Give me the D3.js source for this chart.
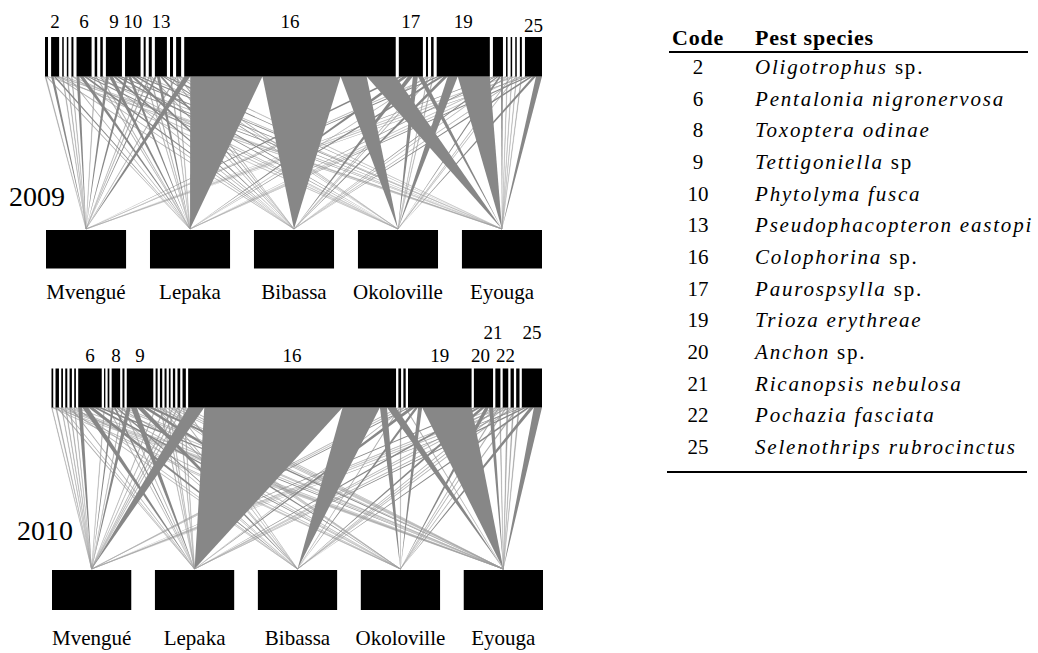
<!DOCTYPE html>
<html>
<head>
<meta charset="utf-8">
<script src="https://cdn.jsdelivr.net/npm/d3@7"></script>
<style>
  body { margin: 0; background: #fff; }
  svg { display: block; }
  svg text { font-family: "Liberation Serif", "Times New Roman", "DejaVu Serif", serif; }
</style>
</head>
<body>
<script>
// lower level: sampling sites, same order in both years
const sites = ['Mvengué', 'Lepaka', 'Bibassa', 'Okoloville', 'Eyouga'];

// upper level: pest codes in the order they sit along the bar
const codes2009 = [1, 2, 3, 4, 5, 6, 7, 8, 9, 10, 11, 12, 13, 14, 15, 16, 17, 18, 26, 19, 20, 21, 22, 23, 24, 25];
// interactions of each pest with Mvengué, Lepaka, Bibassa, Okoloville, Eyouga
const links2009 = [
  [1, 1, 0, 0, 1],
  [2.5, 2, 1, 1, 1.5],
  [0.8, 0, 0, 0, 0.7],
  [0.8, 0.7, 0, 0, 0],
  [0.7, 0, 0.7, 0.6, 0],
  [3, 4, 3, 2.5, 2.5],
  [0.8, 0.9, 0, 0.8, 0],
  [0, 0.9, 0.8, 0, 0.8],
  [3, 4, 3, 3, 3],
  [3, 3, 3.5, 3, 3],
  [0.7, 0.7, 0, 0, 0.6],
  [1, 1, 1, 0, 0],
  [2, 3, 2.5, 2, 2.5],
  [0, 1, 1, 1, 0],
  [1, 1, 1, 1, 1],
  [6, 72, 78, 26, 29],
  [4, 5, 5, 5, 5],
  [0, 0.7, 0.7, 0.6, 0],
  [0.8, 0, 0.9, 0.8, 0],
  [3, 4, 4, 10, 32],
  [2, 2, 2, 2, 2],
  [0.5, 0, 0.5, 0, 0.5],
  [0, 0.5, 0, 0.5, 0.5],
  [0.5, 0, 0, 0.5, 0.5],
  [0, 0.7, 0.6, 0, 0.7],
  [2, 3, 3, 3, 6]
];
const labelled2009 = [2, 6, 9, 10, 13, 16, 17, 19, 25];

const codes2010 = [1, 2, 3, 4, 5, 7, 6, 11, 12, 8, 14, 9, 10, 13, 15, 17, 18, 23, 24, 16, 26, 27, 19, 20, 21, 22, 28, 29, 25];
const links2010 = [
  [0.6, 0, 0, 0.5, 0.6],
  [1, 1, 0, 0.7, 0.7],
  [0.6, 0.5, 0, 0, 0.6],
  [0.7, 0, 0.7, 0, 0.6],
  [0.8, 0.8, 0, 0.7, 0],
  [0.6, 0, 0.5, 0, 0.6],
  [4, 6, 5, 4, 4.3],
  [0.6, 0, 0, 0.7, 0],
  [0, 0.6, 0.5, 0, 0.6],
  [2, 2, 2, 1.4, 1],
  [0.7, 0.7, 0, 0, 0.6],
  [4, 6, 6, 5, 5.3],
  [0.7, 0, 0.7, 0, 0.6],
  [0, 0.8, 0.8, 0.7, 0],
  [0.7, 0.7, 0, 0.6, 0],
  [0, 0.6, 0, 0.5, 0.6],
  [0.8, 0, 0.8, 0, 0.7],
  [0.9, 0.9, 0, 0, 0.9],
  [0.8, 0.8, 0.8, 0, 0.9],
  [16, 137, 37, 7, 9],
  [1, 0, 0.8, 0.9, 0],
  [0.8, 0.7, 0, 0, 0.8],
  [2, 5, 3, 4, 49],
  [3, 4, 4, 4, 4],
  [1, 1, 1, 1, 1],
  [1, 1, 1, 1, 1.5],
  [1.1, 0, 1.1, 0, 1.1],
  [0, 1.1, 0, 1.1, 1.1],
  [2, 3, 3, 4, 8]
];
const labelled2010 = [6, 8, 9, 16, 19, 20, 21, 22, 25];

// species table
const tableCodes = [2, 6, 8, 9, 10, 13, 16, 17, 19, 20, 21, 22, 25];
const tableNames = ['Oligotrophus', 'Pentalonia nigronervosa', 'Toxoptera odinae', 'Tettigoniella',
  'Phytolyma fusca', 'Pseudophacopteron eastopi', 'Colophorina', 'Paurospsylla', 'Trioza erythreae',
  'Anchon', 'Ricanopsis nebulosa', 'Pochazia fasciata', 'Selenothrips rubrocinctus'];
const tableSuffix = [' sp.', '', '', ' sp', '', '', ' sp.', ' sp.', '', ' sp.', '', '', ''];

const width = 1038;
const height = 653;
const serif = '"Liberation Serif", "Times New Roman", "DejaVu Serif", serif';

const svg = d3.select('body')
  .append('svg')
  .attr('width', width)
  .attr('height', height)
  .attr('font-family', serif);

svg.append('rect').attr('width', width).attr('height', height).attr('fill', '#fff');

// layout of the two webs
const layout2009 = {
  year: '2009', yearX: 9, yearY: 206,
  x0: 45, x1: 542, gap: 3.1, barTop: 37, barBottom: 76.5,
  s0: 46, s1: 542, boxTop: 230, boxBottom: 268.5,
  labelY: 28, raised: { 25: 31.5 }, shift: {}, siteY: 299
};
const layout2010 = {
  year: '2010', yearX: 17, yearY: 540,
  x0: 51.5, x1: 542, gap: 2.3, barTop: 368.5, barBottom: 407.5,
  s0: 52, s1: 543, boxTop: 570, boxBottom: 610,
  labelY: 362, raised: { 21: 339, 25: 339 }, shift: { 20: -3, 21: -5 }, siteY: 645
};

function drawWeb(L, codes, links, labelled) {
  const g = svg.append('g');
  const totals = links.map((d) => d3.sum(d));
  const n = codes.length;

  // value -> pixel width along the upper bar
  const w = d3.scaleLinear()
    .domain([0, d3.sum(totals)])
    .range([0, (L.x1 - L.x0) - L.gap * (n - 1)]);

  const site = d3.scaleBand()
    .domain(sites)
    .range([L.s0, L.s1])
    .paddingInner(0.23);

  let cursor = L.x0;
  const nodes = codes.map((c, i) => {
    const node = { code: c, x: cursor, w: w(totals[i]), links: links[i] };
    cursor += node.w + L.gap;
    return node;
  });

  // one wedge per interaction, from its slice of the pest bar to the site
  const wedges = [];
  nodes.forEach((nd) => {
    let cx = nd.x;
    nd.links.forEach((v, j) => {
      if (!v) return;
      const ww = w(v);
      wedges.push({ x1: cx, x2: cx + ww, w: ww, site: sites[j] });
      cx += ww;
    });
  });
  wedges.sort((a, b) => a.w - b.w);

  g.selectAll('path.link')
    .data(wedges)
    .join('path')
    .attr('class', 'link')
    .attr('d', (d) => {
      const sx = site(d.site) + site.bandwidth() / 2;
      return `M${d.x1},${L.barBottom}L${d.x2},${L.barBottom}L${sx},${L.boxTop - 1}Z`;
    })
    .attr('fill', '#878787')
    .attr('fill-opacity', (d) => d.w < 2 ? 0.75 : 1)
    .attr('stroke', '#a0a0a0')
    .attr('stroke-width', (d) => d.w < 2 ? 0.3 : 0);

  // upper bar segments
  g.selectAll('rect.pest')
    .data(nodes)
    .join('rect')
    .attr('class', 'pest')
    .attr('x', (d) => d.x)
    .attr('y', L.barTop)
    .attr('width', (d) => d.w)
    .attr('height', L.barBottom - L.barTop)
    .attr('fill', '#000');

  g.selectAll('text.code')
    .data(nodes.filter((d) => labelled.includes(d.code)))
    .join('text')
    .attr('class', 'code')
    .attr('x', (d) => d.x + d.w / 2 + (L.shift[d.code] || 0))
    .attr('y', (d) => L.raised[d.code] || L.labelY)
    .attr('text-anchor', 'middle')
    .attr('font-size', 19)
    .text((d) => d.code);

  // lower boxes
  g.selectAll('rect.site')
    .data(sites)
    .join('rect')
    .attr('class', 'site')
    .attr('x', (d) => site(d))
    .attr('y', L.boxTop)
    .attr('width', site.bandwidth())
    .attr('height', L.boxBottom - L.boxTop)
    .attr('fill', '#000');

  g.selectAll('text.site')
    .data(sites)
    .join('text')
    .attr('class', 'site')
    .attr('x', (d) => site(d) + site.bandwidth() / 2)
    .attr('y', L.siteY)
    .attr('text-anchor', 'middle')
    .attr('font-size', 21)
    .text((d) => d);

  g.append('text')
    .attr('x', L.yearX)
    .attr('y', L.yearY)
    .attr('font-size', 28)
    .text(L.year);
}

drawWeb(layout2009, codes2009, links2009, labelled2009);
drawWeb(layout2010, codes2010, links2010, labelled2010);

// table of pest species
const table = svg.append('g');
const rowY = d3.scaleLinear().domain([0, tableCodes.length - 1]).range([74, 454]);

table.append('text')
  .attr('x', 698).attr('y', 45)
  .attr('text-anchor', 'middle')
  .attr('font-size', 22).attr('font-weight', 'bold')
  .attr('letter-spacing', 0.8)
  .text('Code');

table.append('text')
  .attr('x', 755).attr('y', 45)
  .attr('font-size', 22).attr('font-weight', 'bold')
  .attr('letter-spacing', 0.8)
  .text('Pest species');

table.append('line')
  .attr('x1', 669).attr('x2', 1028).attr('y1', 52).attr('y2', 52)
  .attr('stroke', '#000').attr('stroke-width', 2);

table.append('line')
  .attr('x1', 667).attr('x2', 1027).attr('y1', 472).attr('y2', 472)
  .attr('stroke', '#000').attr('stroke-width', 2);

table.selectAll('text.tcode')
  .data(tableCodes)
  .join('text')
  .attr('class', 'tcode')
  .attr('x', 698)
  .attr('y', (d, i) => rowY(i))
  .attr('text-anchor', 'middle')
  .attr('font-size', 21)
  .text((d) => d);

const names = table.selectAll('text.tname')
  .data(tableNames)
  .join('text')
  .attr('class', 'tname')
  .attr('x', 755)
  .attr('y', (d, i) => rowY(i))
  .attr('font-size', 21)
  .attr('letter-spacing', 1.8);

names.append('tspan')
  .attr('font-style', 'italic')
  .text((d) => d);

names.append('tspan')
  .text((d, i) => tableSuffix[i]);
</script>
</body>
</html>
